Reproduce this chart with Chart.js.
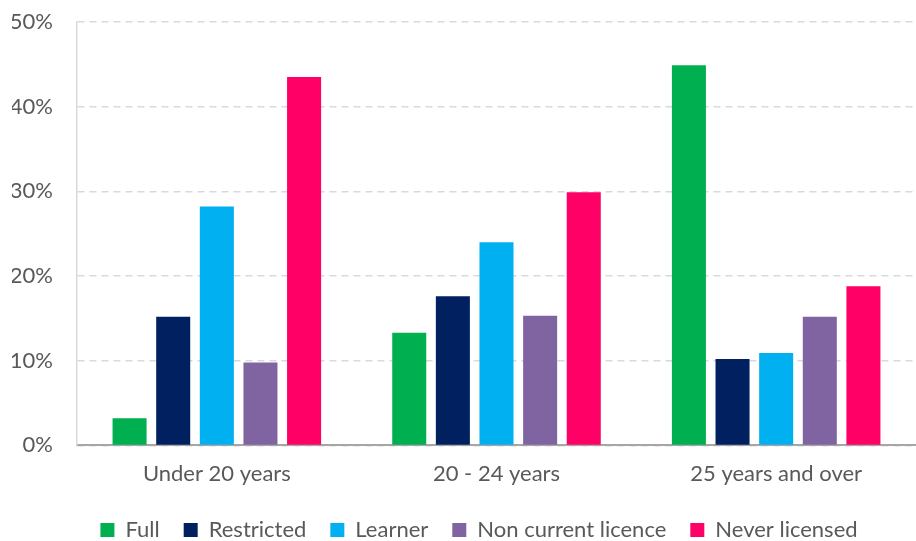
<!DOCTYPE html>
<html>
<head>
<meta charset="utf-8">
<script src="https://cdn.jsdelivr.net/npm/chart.js@4"></script>
<style>
  html, body { margin: 0; padding: 0; background: #fff; }
  #wrap { width: 916px; height: 541px; }
</style>
</head>
<body>
<div id="wrap"><canvas id="chart" width="916" height="541"></canvas></div>
<script>
const categories = ["Under 20 years", "20 - 24 years", "25 years and over"];
const seriesNames = ["Full", "Restricted", "Learner", "Non current licence", "Never licensed"];
const full = [3.2, 13.3, 44.9];
const restricted = [15.2, 17.6, 10.2];
const learner = [28.2, 24.0, 10.9];
const nonCurrent = [9.8, 15.3, 15.2];
const neverLicensed = [43.5, 29.9, 18.8];
const yTicks = [0, 10, 20, 30, 40, 50];

const colors = ["#00b050", "#002060", "#00b0f0", "#8064a2", "#ff0066"];
const values = [full, restricted, learner, nonCurrent, neverLicensed];
const fontSize = 22;

// nudge the legend a bit to the right, like the original
const legendShift = {
    id: "legendShift",
    afterLayout(chart) {
        chart.legend.left += 15;
        chart.legend.right += 15;
    }
};

const ctx = document.getElementById("chart").getContext("2d");
new Chart(ctx, {
    type: "bar",
    data: {
        labels: categories,
        datasets: seriesNames.map((name, i) => ({
            label: name,
            data: values[i],
            backgroundColor: colors[i],
            borderWidth: 0,
            categoryPercentage: 0.78,
            barPercentage: 0.78
        }))
    },
    options: {
        responsive: false,
        animation: false,
        layout: { padding: { top: 22, right: 0, left: 12, bottom: -10 } },
        plugins: {
            tooltip: { enabled: false },
            legend: {
                position: "bottom",
                labels: {
                    color: "#595959",
                    font: { family: "Lato, sans-serif", size: fontSize },
                    boxWidth: 14,
                    boxHeight: 14,
                    padding: 24
                }
            }
        },
        scales: {
            x: {
                grid: { display: false },
                border: { display: true, color: "#a6a6a6", width: 2 },
                ticks: {
                    color: "#595959",
                    font: { family: "Lato, sans-serif", size: fontSize, lineHeight: 0.8 },
                    padding: 12
                }
            },
            y: {
                min: 0,
                max: 50,
                afterFit: axis => { axis.width = 65; axis.paddingTop = 0; axis.paddingBottom = 0; },
                afterBuildTicks: axis => { axis.ticks = yTicks.map(v => ({ value: v })); },
                grid: { color: "#d9d9d9", lineWidth: 1.5, drawTicks: false },
                border: { display: true, color: "#d9d9d9", width: 1.5, dash: [7, 5] },
                ticks: {
                    color: "#595959",
                    font: { family: "Lato, sans-serif", size: fontSize },
                    padding: 24,
                    callback: v => v + "%"
                }
            }
        }
    },
    plugins: [legendShift]
});
</script>
</body>
</html>
